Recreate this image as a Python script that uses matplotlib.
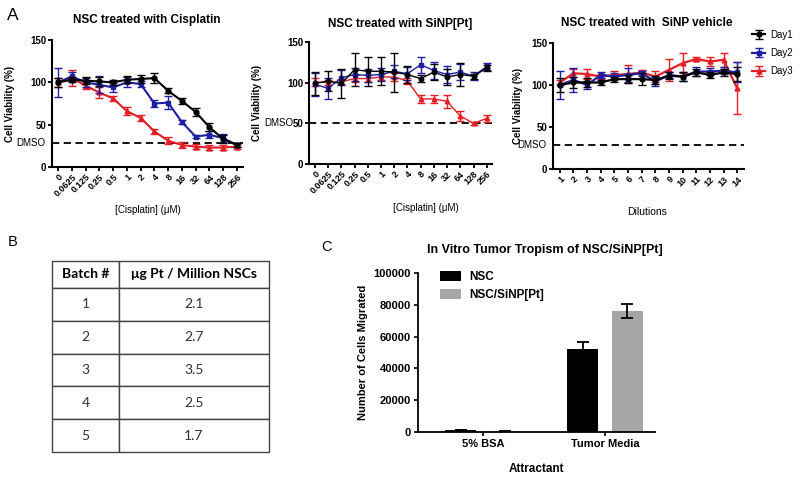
import matplotlib
matplotlib.use("Agg")
import matplotlib.pyplot as plt
import numpy as np

plt.rcParams['font.family'] = ['Liberation Sans', 'DejaVu Sans']

# ---------------- data ----------------
cis_labels = ["0", "0.0625", "0.125", "0.25", "0.5", "1", "2", "4", "8", "16", "32", "64", "128", "256"]
dil_labels = [str(i) for i in range(1, 15)]
days = ["Day1", "Day2", "Day3"]

cis_day1 = [100, 103, 102, 101, 100, 103, 104, 105, 90, 78, 65, 47, 33, 26]
cis_day2 = [100, 107, 100, 97, 94, 100, 98, 75, 76, 53, 36, 38, 34, 26]
cis_day3 = [100, 105, 96, 88, 81, 66, 58, 42, 31, 26, 24, 23, 23, 24]
cis_err1 = [5, 3, 4, 5, 3, 4, 5, 6, 3, 4, 5, 5, 5, 2]
cis_err2 = [17, 5, 5, 10, 5, 6, 4, 4, 8, 2, 2, 4, 5, 2]
cis_err3 = [5, 9, 4, 6, 3, 5, 4, 3, 4, 4, 3, 3, 3, 3]
cis_dmso = 28

pt_day1 = [99, 102, 99, 116, 114, 114, 113, 110, 105, 113, 107, 110, 108, 118]
pt_day2 = [98, 93, 106, 110, 109, 110, 114, 111, 122, 115, 110, 113, 108, 120]
pt_day3 = [101, 100, 101, 105, 105, 107, 107, 102, 80, 80, 77, 59, 50, 56]
pt_err1 = [14, 12, 18, 20, 18, 17, 24, 10, 4, 10, 10, 14, 3, 4]
pt_err2 = [14, 13, 9, 8, 8, 8, 8, 8, 10, 10, 10, 10, 5, 4]
pt_err3 = [5, 3, 3, 4, 4, 4, 5, 4, 5, 5, 8, 6, 2, 4]
pt_dmso = 51

veh_day1 = [100, 103, 103, 103, 107, 107, 107, 106, 111, 110, 115, 112, 115, 113]
veh_day2 = [100, 106, 100, 112, 110, 112, 114, 104, 112, 110, 116, 116, 117, 115]
veh_day3 = [103, 114, 113, 110, 112, 113, 115, 110, 118, 126, 131, 128, 130, 96]
veh_err1 = [8, 6, 5, 3, 3, 5, 7, 5, 4, 5, 4, 4, 4, 8]
veh_err2 = [17, 14, 5, 4, 4, 8, 3, 5, 4, 5, 5, 4, 4, 12]
veh_err3 = [3, 5, 6, 3, 5, 11, 3, 7, 13, 12, 2, 5, 8, 31]
veh_dmso = 28

batches = ["1", "2", "3", "4", "5"]
pt_per_million = ["2.1", "2.7", "3.5", "2.5", "1.7"]

attractants = ["5% BSA", "Tumor Media"]
groups = ["NSC", "NSC/SiNP[Pt]"]
nsc_vals = [1000, 52500]
nsc_errs = [0, 4000]
sinp_vals = [500, 76000]
sinp_errs = [0, 4500]

# ---------------- style ----------------
BLUE = '#1f1fa3'
RED = '#e41e24'
GREY = '#a6a6a6'
colors = ['black', BLUE, RED]
markers = ['o', 's', '^']

fig = plt.figure(figsize=(8, 4.78), dpi=100)
W, H = 800, 478


def add_ax(left, top, right, bottom):
    return fig.add_axes([left / W, 1 - bottom / H, (right - left) / W, (bottom - top) / H])


def style_panel(ax, title, xticklabels, x, dmso, title_xy, dmso_x=-0.035):
    ax.set_ylim(0, 150)
    ax.set_yticks([0, 50, 100, 150])
    ax.spines['top'].set_visible(False)
    ax.spines['right'].set_visible(False)
    for s in ['left', 'bottom']:
        ax.spines[s].set_linewidth(1.5)
    ax.tick_params(axis='both', direction='out', width=1.3, length=3, pad=1)
    for lab in ax.get_yticklabels():
        lab.set_fontweight('bold')
        lab.set_fontsize(7)
    ax.set_xticks(x)
    ax.set_xticklabels(xticklabels, rotation=45, ha='right', rotation_mode='anchor',
                       fontsize=6.5, fontweight='bold')
    ax.axhline(dmso, color='black', lw=1.3, ls=(0, (4, 2.5)), zorder=1)
    ax.text(dmso_x, dmso, "DMSO", transform=ax.get_yaxis_transform(), ha='right', va='center',
            fontsize=7)
    fig.text(title_xy[0] / W, 1 - title_xy[1] / H, title, ha='center', va='center',
             fontsize=8.5, fontweight='bold')


def plot_days(ax, x, vals, errs, lw, ms):
    for i in range(3):
        ax.errorbar(x, vals[i], yerr=errs[i], color=colors[i], marker=markers[i], ms=ms,
                    lw=lw, elinewidth=1.0, capsize=3, capthick=1.0, label=days[i], zorder=3 + (2 - i))


# Panel A1
ax1 = add_ax(52, 40, 243, 167)
x1 = np.arange(len(cis_labels))
plot_days(ax1, x1, [cis_day1, cis_day2, cis_day3], [cis_err1, cis_err2, cis_err3], 1.5, 3.5)
ax1.set_xlim(-0.44, 13.44)
style_panel(ax1, "NSC treated with Cisplatin", cis_labels, x1, cis_dmso, (147, 20))
ax1.set_ylabel("Cell Viability (%)", fontsize=7, fontweight='bold')
ax1.yaxis.set_label_coords(-37 / 191, 0.5)
fig.text(148 / W, 1 - 210 / H, "[Cisplatin] (\u03bcM)", ha='center', va='center', fontsize=7)

# Panel A2
ax2 = add_ax(309, 42, 492, 164)
x2 = np.arange(len(cis_labels))
plot_days(ax2, x2, [pt_day1, pt_day2, pt_day3], [pt_err1, pt_err2, pt_err3], 1.0, 3.2)
ax2.set_xlim(-0.45, 13.4)
style_panel(ax2, "NSC treated with SiNP[Pt]", cis_labels, x2, pt_dmso, (400, 24), dmso_x=-0.085)
ax2.set_ylabel("Cell Viability (%)", fontsize=7, fontweight='bold')
ax2.yaxis.set_label_coords(-47 / 183, 0.5)
fig.text(426 / W, 1 - 208 / H, "[Cisplatin] (\u03bcM)", ha='center', va='center', fontsize=7)

# Panel A3
ax3 = add_ax(553, 43, 744, 169)
x3 = np.arange(1, len(dil_labels) + 1)
plot_days(ax3, x3, [veh_day1, veh_day2, veh_day3], [veh_err1, veh_err2, veh_err3], 1.6, 3.5)
ax3.set_xlim(0.5, 14.5)
style_panel(ax3, "NSC treated with  SiNP vehicle", dil_labels, x3, veh_dmso, (647, 23))
ax3.set_ylabel("Cell Viability (%)", fontsize=7, fontweight='bold')
ax3.yaxis.set_label_coords(-30 / 191, 0.5)
fig.text(647 / W, 1 - 212 / H, "Dilutions", ha='center', va='center', fontsize=7.5)

h, l = ax3.get_legend_handles_labels()
fig.legend(h, l, loc='upper left', bbox_to_anchor=(744 / W, 1 - 22 / H), frameon=False,
           fontsize=7, handlelength=1.4, labelspacing=0.85, handletextpad=0.5, borderpad=0.3)

# Panel B: table
axt = add_ax(52, 261, 269, 452)
axt.axis('off')
cell_text = [[b, v] for b, v in zip(batches, pt_per_million)]
tbl = axt.table(cellText=cell_text, colLabels=["Batch #", "\u03bcg Pt / Million NSCs"],
                cellLoc='center', bbox=[0, 0, 1, 1], colWidths=[67 / 217, 150 / 217])
tbl.auto_set_font_size(False)
hdr_h = 27 / 191
row_h = (1 - hdr_h) / 5
for (r, c), cell in tbl.get_celld().items():
    cell.set_linewidth(1.0)
    cell.set_edgecolor('#444444')
    cell.set_height(hdr_h if r == 0 else row_h)
    cell.get_text().set_fontfamily(['Lato', 'DejaVu Sans'])
    cell.get_text().set_fontsize(10)
    if r == 0:
        cell.get_text().set_fontweight('bold')
    else:
        cell.get_text().set_color('#333333')

# Panel C: bars
axc = add_ax(418, 273, 655, 432)
xc = np.arange(len(attractants))
bw = 0.255
off = 0.184
axc.bar(xc - off, nsc_vals, bw, yerr=nsc_errs, color='black', label=groups[0],
        error_kw=dict(ecolor='black', capsize=4, elinewidth=1.3, capthick=1.3))
axc.bar(xc + off, sinp_vals, bw, yerr=sinp_errs, color=GREY, label=groups[1],
        error_kw=dict(ecolor='black', capsize=4, elinewidth=1.3, capthick=1.3))
axc.set_xlim(-0.533, 1.41)
axc.set_ylim(0, 100000)
axc.set_yticks([0, 20000, 40000, 60000, 80000, 100000])
axc.set_xticks(xc)
axc.set_xticklabels(attractants, fontsize=8, fontweight='bold')
for lab in axc.get_yticklabels():
    lab.set_fontweight('bold')
    lab.set_fontsize(8)
axc.spines['top'].set_visible(False)
axc.spines['right'].set_visible(False)
for s in ['left', 'bottom']:
    axc.spines[s].set_linewidth(1.3)
axc.tick_params(axis='both', direction='out', width=1.2, length=3, pad=2)
axc.set_ylabel("Number of Cells Migrated", fontsize=8, fontweight='bold')
axc.set_xlabel("Attractant", fontsize=8.5, fontweight='bold', labelpad=10)
axc.legend(loc='upper left', bbox_to_anchor=(0.05, 1.08), frameon=False,
           prop={'weight': 'bold', 'size': 8.5}, handlelength=1.7, handleheight=1.0,
           labelspacing=0.45, handletextpad=0.7)
fig.text(545 / W, 1 - 250 / H, "In Vitro Tumor Tropism of NSC/SiNP[Pt]", ha='center',
         va='center', fontsize=9, fontweight='bold')

# Panel letters
fig.text(13 / W, 1 - 16 / H, "A", fontsize=12.5, ha='center', va='center')
fig.text(13 / W, 1 - 242 / H, "B", fontsize=10.5, ha='center', va='center')
fig.text(327 / W, 1 - 247 / H, "C", fontsize=10.5, ha='center', va='center')

fig.savefig("out.png", dpi=100)
